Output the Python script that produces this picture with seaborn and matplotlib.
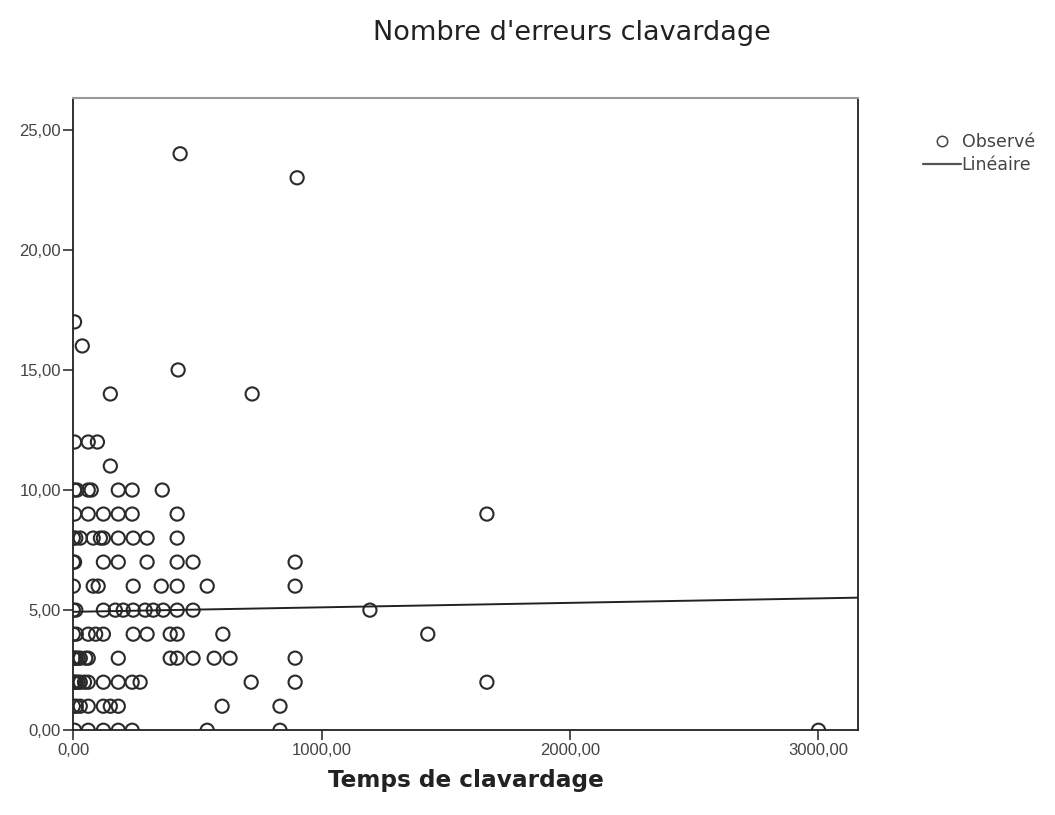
import numpy as np
import pandas as pd
import matplotlib
matplotlib.use("Agg")
import matplotlib.pyplot as plt
from matplotlib.ticker import FuncFormatter, FixedLocator
from matplotlib.lines import Line2D
import seaborn as sns

# ---- data ----
rows = {
    24: [430],
    23: [901],
    17: [5],
    16: [36],
    15: [422],
    14: [149, 720],
    12: [5, 60, 97],
    11: [149],
    10: [5, 15, 60, 72, 181, 237, 358],
    9:  [5, 60, 121, 181, 237, 418, 1665],
    8:  [0, 10, 28, 80, 109, 121, 181, 241, 297, 418],
    7:  [0, 5, 121, 181, 297, 418, 482, 893],
    6:  [0, 80, 100, 241, 354, 418, 539, 893],
    5:  [0, 10, 121, 169, 201, 241, 289, 322, 362, 418, 482, 1194],
    4:  [0, 12, 60, 90, 121, 241, 297, 390, 418, 602, 1427],
    3:  [0, 5, 12, 20, 28, 50, 60, 181, 390, 418, 482, 567, 631, 893],
    2:  [0, 5, 12, 20, 28, 45, 60, 121, 181, 237, 269, 716, 893, 1665],
    1:  [0, 12, 28, 60, 121, 149, 181, 599, 832],
    0:  [5, 60, 121, 181, 237, 539, 832, 3000],
}
temps = [x for y, xs in rows.items() for x in xs]
erreurs = [y for y, xs in rows.items() for x in xs]

# linear fit line as shown in the picture (endpoints)
fit_x = [0, 3160]
fit_y = [4.93, 5.52]

x_ticks = [0, 1000, 2000, 3000]
y_ticks = [0, 5, 10, 15, 20, 25]
title = "Nombre d'erreurs clavardage"
x_label = "Temps de clavardage"
legend_labels = ["Observé", "Linéaire"]

df = pd.DataFrame({"Temps": temps, "Erreurs": erreurs})
fit_df = pd.DataFrame({"Temps": fit_x, "Erreurs": fit_y})

sns.set_theme(style="white")
plt.rcParams['font.family'] = ['Liberation Sans', 'DejaVu Sans']

fig = plt.figure(figsize=(10.55, 8.15), dpi=100)
ax = fig.add_axes([0.0695, 0.104, 0.744, 0.776])

sns.scatterplot(data=df, x="Temps", y="Erreurs", ax=ax, marker="o",
                s=90, facecolor="none", edgecolor="#2a2a2a", linewidth=1.5,
                legend=False, clip_on=True)
sns.lineplot(data=fit_df, x="Temps", y="Erreurs", ax=ax, color="#222222",
             linewidth=1.4, legend=False)

ax.set_xlim(0, 3160)
ax.set_ylim(0, 26.33)
ax.xaxis.set_major_locator(FixedLocator(x_ticks))
ax.yaxis.set_major_locator(FixedLocator(y_ticks))
fmt = FuncFormatter(lambda v, p: f"{v:.2f}".replace(".", ","))
ax.xaxis.set_major_formatter(fmt)
ax.yaxis.set_major_formatter(fmt)
ax.tick_params(axis="both", direction="out", length=7, width=1.2,
               colors="#333333", labelsize=12, labelcolor="#444444",
               bottom=True, left=True, pad=2)

for side in ["left", "bottom", "right"]:
    ax.spines[side].set_color("#222222")
    ax.spines[side].set_linewidth(1.3)
ax.spines["top"].set_color("#999999")
ax.spines["top"].set_linewidth(1.5)

ax.set_xlabel(x_label, fontsize=16.7, fontweight="bold", color="#222222",
              labelpad=8, family=["DejaVu Sans"])
ax.set_ylabel("")
fig.text(0.542, 0.960, title, fontsize=19.5, color="#222222", ha="center",
         va="center", family=["DejaVu Sans"])

handles = [Line2D([], [], marker="o", linestyle="none", markerfacecolor="none",
                  markeredgecolor="#444444", markersize=7.5, markeredgewidth=1.1),
           Line2D([], [], color="#555555", linewidth=1.6)]
leg = fig.legend(handles, legend_labels, loc="upper left",
                 bbox_to_anchor=(0.868, 0.845), frameon=False,
                 prop={"family": ["DejaVu Sans"], "size": 12.5},
                 handlelength=2.2, handletextpad=0.05, labelspacing=0.25,
                 borderaxespad=0)
for t in leg.get_texts():
    t.set_color("#444444")

fig.savefig("out.png", dpi=100, facecolor="white")
